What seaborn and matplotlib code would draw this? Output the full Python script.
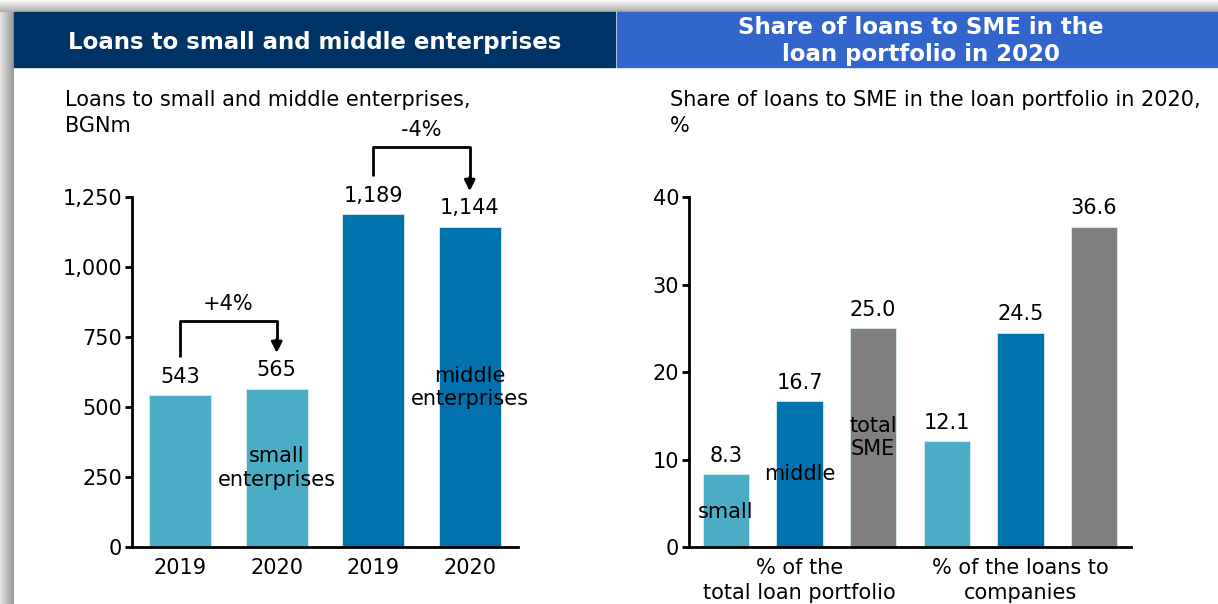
import numpy as np
import pandas as pd
import matplotlib
matplotlib.use("Agg")
import matplotlib.pyplot as plt
import seaborn as sns

# data
loan_bars = ["small 2019", "small 2020", "middle 2019", "middle 2020"]
loan_years = ["2019", "2020", "2019", "2020"]
loan_kind = ["small", "small", "middle", "middle"]
loan_values = [543, 565, 1189, 1144]

share_bars = ["p_small", "p_middle", "p_total", "c_small", "c_middle", "c_total"]
share_kind = ["small", "middle", "total", "small", "middle", "total"]
share_values = [8.3, 16.7, 25.0, 12.1, 24.5, 36.6]
share_groups = ["% of the\ntotal loan portfolio", "% of the loans to\ncompanies"]

colors = {"small": "#4BACC6", "middle": "#0073AE", "total": "#808080"}

sns.set_theme(style="white")
plt.rcParams["font.family"] = ["DejaVu Sans"]
plt.rcParams["text.color"] = "black"
plt.rcParams["xtick.color"] = "black"
plt.rcParams["ytick.color"] = "black"
FS = 15

W, H = 1218, 604
fig = plt.figure(figsize=(W / 100, H / 100), dpi=100)

# background frame: shadows and header boxes, in pixel coordinates
bg = fig.add_axes([0, 0, 1, 1])
top_grad = np.linspace(0.97, 0.68, 12).reshape(-1, 1)
bg.imshow(np.repeat(top_grad, 2, axis=1), cmap="gray", vmin=0, vmax=1,
          extent=(0, W, 12, 0), aspect="auto")
left_grad = np.linspace(0.88, 0.6, 14).reshape(1, -1)
bg.imshow(np.repeat(left_grad, 2, axis=0), cmap="gray", vmin=0, vmax=1,
          extent=(0, 14, H, 12), aspect="auto")
bg.add_patch(plt.Rectangle((14, 12), 601, 55, color="#003366"))
bg.add_patch(plt.Rectangle((617, 12), 601, 55, color="#3366CC"))
bg.set_xlim(0, W)
bg.set_ylim(H, 0)
bg.axis("off")
bg.text(315, 42, "Loans to small and middle enterprises", color="white",
        fontsize=16.5, fontweight="bold", ha="center", va="center")
bg.text(921, 28, "Share of loans to SME in the", color="white",
        fontsize=16.5, fontweight="bold", ha="center", va="center")
bg.text(921, 54, "loan portfolio in 2020", color="white",
        fontsize=16.5, fontweight="bold", ha="center", va="center")
bg.text(65, 100, "Loans to small and middle enterprises,", fontsize=FS,
        ha="left", va="center")
bg.text(65, 126, "BGNm", fontsize=FS, ha="left", va="center")
bg.text(670, 100, "Share of loans to SME in the loan portfolio in 2020,", fontsize=FS,
        ha="left", va="center")
bg.text(670, 126, "%", fontsize=FS, ha="left", va="center")


def style_axis(ax):
    sns.despine(ax=ax)
    for s in ["left", "bottom"]:
        ax.spines[s].set_color("black")
        ax.spines[s].set_linewidth(2)
    ax.tick_params(axis="y", direction="out", length=5, width=2, color="black",
                   labelsize=FS, left=True, pad=2)
    ax.tick_params(axis="x", length=0, labelsize=FS, pad=8)
    ax.set_xlabel("")
    ax.set_ylabel("")
    ax.set_facecolor("none")


# left chart
ax1 = fig.add_axes([132 / W, (H - 547) / H, 386 / W, 350 / H])
df1 = pd.DataFrame({"bar": loan_bars, "value": loan_values, "kind": loan_kind})
sns.barplot(data=df1, x="bar", y="value", hue="kind", palette=colors, dodge=False,
            width=0.64, saturation=1, legend=False, ax=ax1,
            edgecolor="#d8ecf4", linewidth=0.6)
ax1.set_ylim(0, 1250)
ax1.set_xlim(-0.5, 3.5)
ax1.set_yticks([0, 250, 500, 750, 1000, 1250])
ax1.set_yticklabels(["0", "250", "500", "750", "1,000", "1,250"])
ax1.set_xticks(range(len(loan_years)))
ax1.set_xticklabels(loan_years)
style_axis(ax1)
for c in ax1.containers:
    ax1.bar_label(c, labels=[f"{v:,.0f}" for v in c.datavalues], padding=6, fontsize=FS)

ax1.text(1, 282, "small\nenterprises", ha="center", va="center", fontsize=FS)
ax1.text(3, 571, "middle\nenterprises", ha="center", va="center", fontsize=FS)

# growth brackets
for x0, x1, y_start, y_top, y_tip, label, y_lab in [
    (0, 1, 679, 807, 693, "+4%", 868),
    (2, 3, 1325, 1429, 1271, "-4%", 1489),
]:
    ax1.plot([x0, x0, x1, x1], [y_start, y_top, y_top, y_tip + 45], color="black",
             lw=2, clip_on=False, solid_capstyle="butt")
    ax1.annotate("", xy=(x1, y_tip), xytext=(x1, y_tip + 50),
                 arrowprops=dict(arrowstyle="-|>", color="black", lw=2,
                                 mutation_scale=16, shrinkA=0, shrinkB=0),
                 annotation_clip=False)
    ax1.text((x0 + x1) / 2, y_lab, label, ha="center", va="center", fontsize=FS)

# right chart
ax2 = fig.add_axes([689 / W, (H - 547) / H, 442 / W, 350 / H])
df2 = pd.DataFrame({"bar": share_bars, "value": share_values, "kind": share_kind})
sns.barplot(data=df2, x="bar", y="value", hue="kind", palette=colors, dodge=False,
            width=0.63, saturation=1, legend=False, ax=ax2,
            edgecolor="#d8ecf4", linewidth=0.6)
ax2.set_ylim(0, 40)
ax2.set_xlim(-0.5, 5.5)
ax2.set_yticks([0, 10, 20, 30, 40])
ax2.set_xticks([1, 4])
ax2.set_xticklabels(share_groups, linespacing=1.3)
style_axis(ax2)
for c in ax2.containers:
    ax2.bar_label(c, labels=[f"{v:.1f}" for v in c.datavalues], padding=6, fontsize=FS)

ax2.text(0, 4.0, "small", ha="center", va="center", fontsize=FS)
ax2.text(1, 8.3, "middle", ha="center", va="center", fontsize=FS)
ax2.text(2, 12.5, "total\nSME", ha="center", va="center", fontsize=FS)

fig.savefig("out.png", dpi=100)
